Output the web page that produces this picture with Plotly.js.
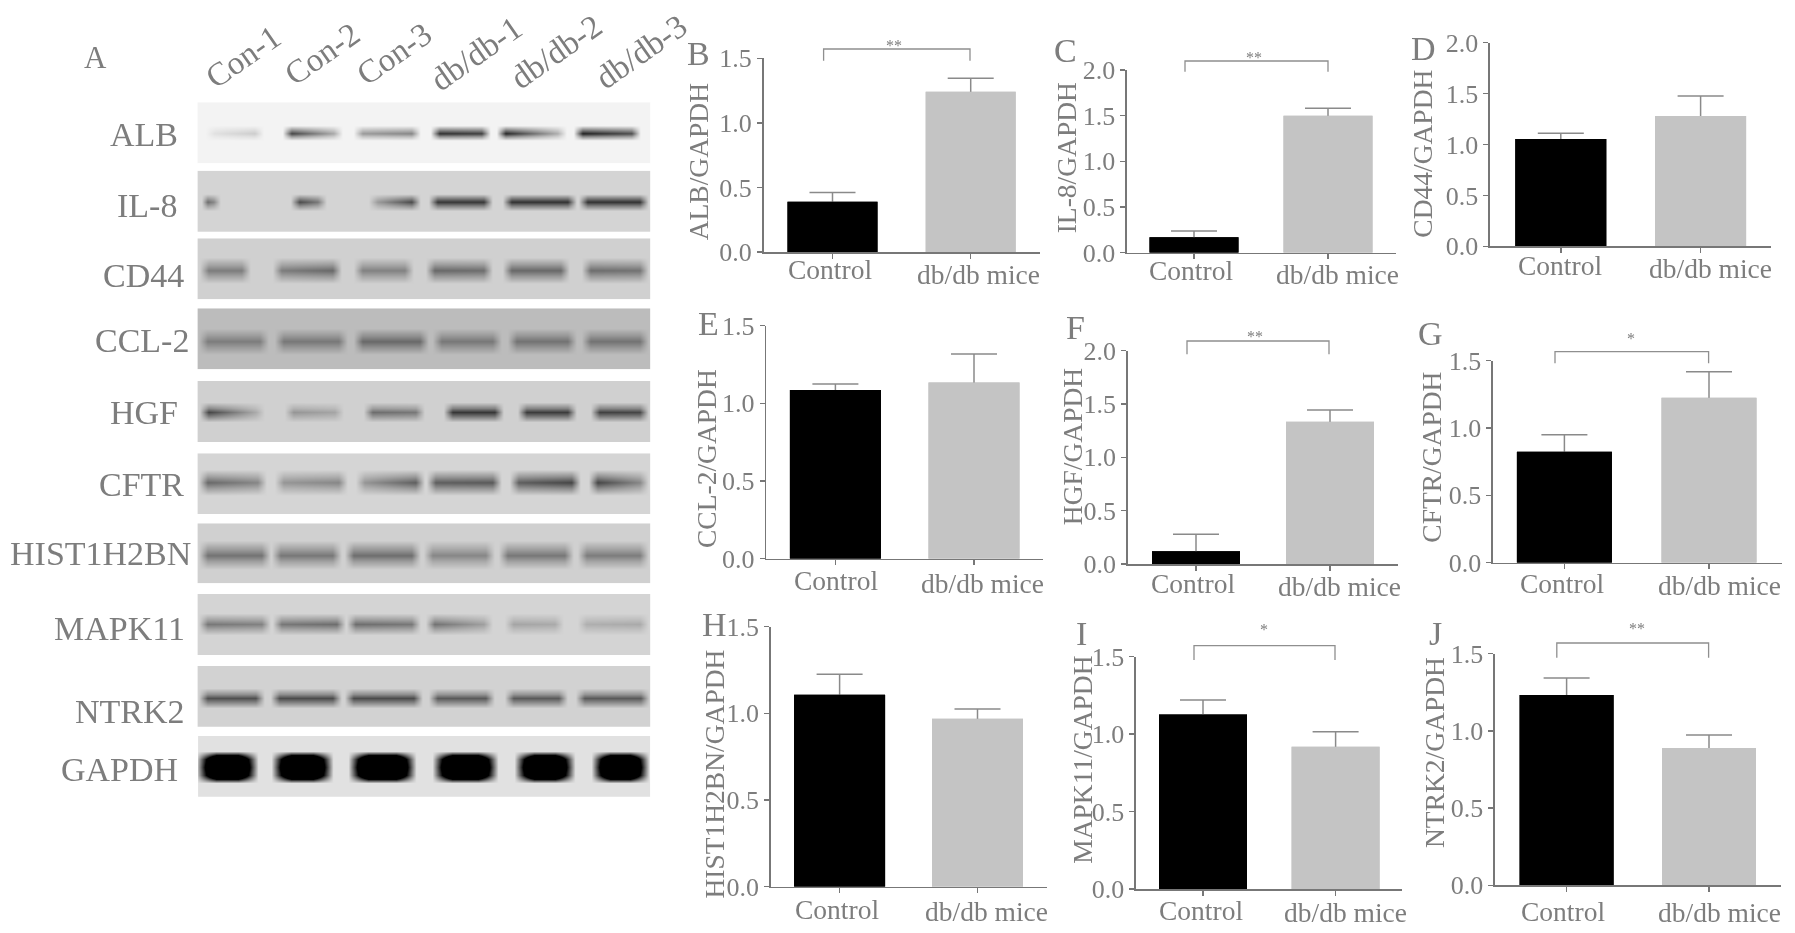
<!DOCTYPE html>
<html>
<head>
<meta charset="utf-8">
<script src="https://cdn.plot.ly/plotly-3.0.1.min.js"></script>
<style>
html,body{margin:0;padding:0;background:#fff;overflow:hidden}
#chart{width:1795px;height:933px;filter:blur(0.55px)}
</style>
</head>
<body>
<div id="chart"></div>
<script>
// ---------- bar chart data ----------
const categories = ['Control', 'db/db mice'];
const genes = ['ALB', 'IL-8', 'CD44', 'CCL-2', 'HGF', 'CFTR', 'HIST1H2BN', 'MAPK11', 'NTRK2'];
const panelLetters = ['B', 'C', 'D', 'E', 'F', 'G', 'H', 'I', 'J'];
const controlValues = [0.39, 0.168, 1.055, 1.086, 0.119, 0.824, 1.108, 1.126, 1.232];
const controlErrors = [0.07, 0.07, 0.055, 0.038, 0.159, 0.126, 0.117, 0.094, 0.11];
const dbValues = [1.24, 1.50, 1.28, 1.135, 1.334, 1.225, 0.969, 0.919, 0.889];
const dbErrors = [0.105, 0.08, 0.196, 0.183, 0.11, 0.193, 0.056, 0.097, 0.084];
const yMaximum = [1.5, 2.0, 2.0, 1.5, 2.0, 1.5, 1.5, 1.5, 1.5];
const significance = ['**', '**', '', '', '**', '*', '', '*', '**'];

// ---------- western blot data (grey levels; 255 white, 0 black, below 0 saturates to solid black) ----------
const blotLabels = ['ALB', 'IL-8', 'CD44', 'CCL-2', 'HGF', 'CFTR', 'HIST1H2BN', 'MAPK11', 'NTRK2', 'GAPDH'];
const laneLabels = ['Con-1', 'Con-2', 'Con-3', 'db/db-1', 'db/db-2', 'db/db-3'];
const blotBackground = [243, 212, 208, 188, 208, 213, 208, 212, 210, 225];
const blotLevels = [
  [[225,205],[70,170],[155,135],[50,65],[40,175],[35,80]],
  [[110,135],[75,120],[155,75],[55,55],[50,50],[50,50]],
  [[125,125],[125,105],[130,130],[105,110],[105,105],[110,115]],
  [[125,125],[120,120],[105,105],[120,120],[115,115],[115,115]],
  [[70,170],[150,165],[110,120],[55,55],[60,60],[65,70]],
  [[105,135],[150,135],[150,95],[95,90],[95,70],[70,135]],
  [[115,115],[120,120],[110,110],[135,135],[120,120],[125,125]],
  [[120,130],[120,110],[110,120],[115,160],[165,170],[175,170]],
  [[80,80],[75,75],[75,75],[90,90],[90,90],[90,90]],
  [[-300,-300],[-300,-300],[-300,-300],[-300,-300],[-300,-300],[-300,-300]]
];

// ---------- geometry (pixels in the 1795x933 page) ----------
const W = 1795, H = 933;
const px = x => x / W, py = y => 1 - y / H;
const textColor = '#7d7d7d', axisColor = '#777777', font = 'Liberation Serif';

const panelGeom = [
  {ax:763.6,end:1040,top:58.3,zero:252,t:[832.5,970.7],bw:90,title:[698.6,161.7],letter:[698,54],
   lab:[[830,269.3],[979,274]],br:[823.6,970,49,60.7],star:[894,42.3]},
  {ax:1127,end:1395.8,top:70,zero:252.7,t:[1194,1328],bw:89,title:[1066,158.3],letter:[1065,50],
   lab:[[1191,270.7],[1337.7,274]],br:[1185,1328,61,71.7],star:[1254,54.3]},
  {ax:1490,end:1770.5,top:42.7,zero:246.3,t:[1560.8,1700.6],bw:91,title:[1423,153.7],letter:[1423,48],
   lab:[[1560,265.7],[1710.5,268]]},
  {ax:766.4,end:1043,top:325.7,zero:558.7,t:[835.4,974],bw:91,title:[707,459],letter:[708,323],
   lab:[[836.4,580],[982.5,583]]},
  {ax:1127.9,end:1397.6,top:350.7,zero:564,t:[1196,1330],bw:88,title:[1072.5,446.7],letter:[1075,327],
   lab:[[1192.5,583.3],[1339,586.7]],br:[1187,1329,341,354.3],star:[1255,333.3]},
  {ax:1493,end:1782,top:360.7,zero:562.7,t:[1564.4,1709],bw:95,title:[1430.7,457],letter:[1430,333],
   lab:[[1561.5,583.3],[1719,585.7]],br:[1555,1708.6,351.7,363.3],star:[1631,335]},
  {ax:770.7,end:1046.8,top:626.7,zero:886.7,t:[839.6,977.5],bw:91,title:[713.6,774],letter:[714,624],
   lab:[[837,909],[986.8,911.7]]},
  {ax:1136,end:1402,top:656.7,zero:889,t:[1203,1335.6],bw:88,title:[1081.8,760],letter:[1081,633],
   lab:[[1201,910],[1345.7,912.3]],br:[1194,1335,645.7,660],star:[1263.5,626.7]},
  {ax:1495,end:1780.6,top:653.7,zero:885.3,t:[1566.6,1709],bw:94,title:[1434,753],letter:[1435,633],
   lab:[[1563,911],[1719.4,912.3]],br:[1556.8,1708.6,643,657.7],star:[1636.5,625]}
];

const stripLeft = 197.4, stripRight = 650.4;
const blotGeom = [
  {top:102.3,bot:163.3,y:133,h:3.5,lanes:[[205,263],[282,342],[353,420],[430,490],[496,566],[573,640]]},
  {top:170.7,bot:232,  y:202,h:4,  lanes:[[201,220],[290,326],[368,420],[428,492],[502,576],[578,648]]},
  {top:238.3,bot:299.3,y:270,h:6,  lanes:[[199,250],[272,341],[353,413],[425,492],[502,569],[581,648]]},
  {top:308.3,bot:369.3,y:341,h:6,  lanes:[[198,268],[274,347],[353,428],[432,501],[507,576],[581,648]]},
  {top:381,  bot:442.3,y:412,h:4.5,lanes:[[199,264],[284,343],[363,424],[443,503],[517,576],[590,648]]},
  {top:453.3,bot:514,  y:482,h:6,  lanes:[[198,266],[274,347],[355,424],[426,501],[509,580],[588,648]]},
  {top:523.3,bot:583.3,y:555,h:6.5,lanes:[[198,270],[271,341],[344,420],[423,494],[498,573],[577,648]]},
  {top:594,  bot:655,  y:624,h:5,  lanes:[[198,270],[272,345],[346,420],[425,492],[504,563],[577,648]]},
  {top:666,  bot:726.7,y:698,h:4.5,lanes:[[198,264],[270,341],[344,422],[428,494],[504,567],[575,649]]},
  {top:736,  bot:796.7,y:767,h:10, lanes:[[196,258],[271,333],[348,416],[432,498],[514,575],[591,649]],solid:true}
];
const blotLabelPos = [[180,134],[178.6,206],[185.5,276],[191,340],[180,412],[185.5,484],[192.5,553],[187,628.5],[187,711],[180,769]];
const laneLabelPos = [[243,57],[322,54],[394,54],[476,54],[556,52],[641,52]];

// ---------- build ----------
const traces = [], annotations = [], shapes = [];
const layout = {
  width: W, height: H, autosize: false,
  margin: {l:0, r:0, t:0, b:0, pad:0},
  paper_bgcolor: '#ffffff', plot_bgcolor: 'rgba(0,0,0,0)',
  showlegend: false, barmode: 'overlay',
  font: {family: font, color: textColor}
};
const note = (text, x, y, size, extra) => annotations.push(Object.assign({
  text, x: px(x), y: py(y), xref: 'paper', yref: 'paper', showarrow: false,
  xanchor: 'center', yanchor: 'middle', font: {family: font, size, color: textColor}
}, extra || {}));

panelGeom.forEach((g, i) => {
  const n = i + 1, sfx = n === 1 ? '' : String(n);
  const sp = g.t[1] - g.t[0];
  const vals = [controlValues[i], dbValues[i]];
  const errs = [controlErrors[i], dbErrors[i]];
  const colors = ['#000000', '#c4c4c4'];
  // lower bar carries the error whisker, upper bar hides the whisker's foot
  traces.push({type:'bar', x:categories, y:vals, xaxis:'x'+sfx, yaxis:'y'+sfx, width:g.bw/sp,
    marker:{color:colors, line:{width:0}}, hoverinfo:'skip',
    error_y:{type:'data', symmetric:false, array:errs, arrayminus:[0.02,0.02], color:'#8a8a8a', thickness:1.5, width:23}});
  traces.push({type:'bar', x:categories, y:vals, xaxis:'x'+sfx, yaxis:'y'+sfx, width:g.bw/sp,
    marker:{color:colors, line:{width:0}}, hoverinfo:'skip'});
  layout['xaxis'+sfx] = {
    type:'category', categoryorder:'array', categoryarray:categories,
    domain:[px(g.ax), px(g.end)], range:[(g.ax-g.t[0])/sp, (g.end-g.t[0])/sp],
    anchor:'y'+sfx, showgrid:false, zeroline:false, showline:true, linecolor:axisColor, linewidth:1.6,
    ticks:'outside', ticklen:5, tickwidth:1.4, tickcolor:axisColor, showticklabels:false, fixedrange:true
  };
  layout['yaxis'+sfx] = {
    domain:[py(g.zero), py(g.top)], range:[0, yMaximum[i]], anchor:'x'+sfx,
    tickmode:'linear', tick0:0, dtick:0.5, tickformat:'.1f',
    showgrid:false, zeroline:false, showline:true, linecolor:axisColor, linewidth:1.6,
    ticks:'outside', ticklen:5, tickwidth:1.4, tickcolor:axisColor,
    tickfont:{family:font, size:26, color:textColor}, fixedrange:true
  };
  categories.forEach((c, k) => note(c, g.lab[k][0], g.lab[k][1], 27.5));
  note(genes[i] + '/GAPDH', g.title[0], g.title[1], 27.5, {textangle:-90});
  note(panelLetters[i], g.letter[0], g.letter[1], 34);
  if (g.br) {
    const [x0, x1, yTop, yBot] = g.br;
    shapes.push({type:'path', xref:'paper', yref:'paper', layer:'above',
      path:`M ${px(x0)} ${py(yBot)} L ${px(x0)} ${py(yTop)} L ${px(x1)} ${py(yTop)} L ${px(x1)} ${py(yBot)}`,
      line:{color:'#8f8f8f', width:1.3}});
    note(significance[i], g.star[0], g.star[1] + 3, 16);
  }
});

blotGeom.forEach((g, b) => {
  const n = 10 + b, sfx = String(n);
  const bg = blotBackground[b];
  const xs = [stripLeft], rowsBand = [bg];
  g.lanes.forEach((lane, l) => {
    const [s, e] = lane;
    const [lv, rv] = blotLevels[b][l];
    const ramp = Math.min(g.solid ? 20 : 9, (e - s) / 3);
    xs.push(s, s + ramp, e - ramp, e);
    rowsBand.push(bg, lv, rv, bg);
  });
  xs.push(stripRight); rowsBand.push(bg);
  const mult = g.solid ? [-1.6, -0.8, 0, 0.8, 1.6] : [-2.2, -1, 0, 1, 2.2];
  const weight = g.solid ? [0, 0.85, 1, 0.85, 0] : [0, 0.5, 1, 0.5, 0];
  const ys = [g.top], z = [rowsBand.map(() => bg)];
  mult.forEach((m, r) => {
    ys.push(g.y + m * g.h);
    z.push(rowsBand.map(v => bg + (v - bg) * weight[r]));
  });
  ys.push(g.bot); z.push(rowsBand.map(() => bg));
  traces.push({type:'heatmap', x:xs, y:ys, z:z, xaxis:'x'+sfx, yaxis:'y'+sfx,
    zmin:0, zmax:255, zsmooth:'best', showscale:false, hoverinfo:'skip',
    colorscale:[[0,'#000000'],[1,'#ffffff']]});
  layout['xaxis'+sfx] = {domain:[px(stripLeft), px(stripRight)], range:[stripLeft, stripRight], anchor:'y'+sfx, visible:false, fixedrange:true};
  layout['yaxis'+sfx] = {domain:[py(g.bot), py(g.top)], range:[g.bot, g.top], anchor:'x'+sfx, visible:false, fixedrange:true};
  const [lx, ly] = blotLabelPos[b];
  note(blotLabels[b], lx, ly, 34, {xanchor:'right'});
});
laneLabels.forEach((t, i) => note(t, laneLabelPos[i][0], laneLabelPos[i][1], 33, {textangle:-35}));
note('A', 95, 57, 31);

layout.annotations = annotations;
layout.shapes = shapes;
Plotly.newPlot('chart', traces, layout, {displayModeBar:false, staticPlot:true});
</script>
</body>
</html>
